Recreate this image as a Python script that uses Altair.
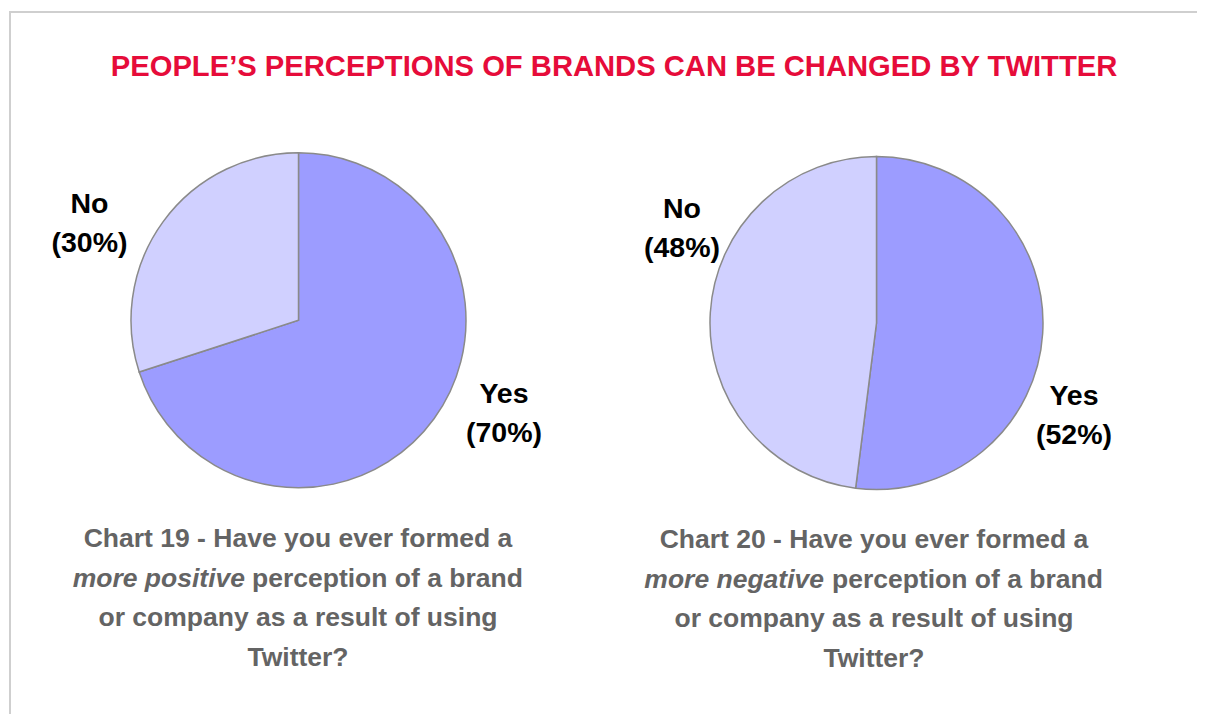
import altair as alt
import pandas as pd

# ---- data ----
categories = ["Yes", "No"]
chart19_values = [70, 30]
chart20_values = [52, 48]

title_text = "PEOPLE\u2019S PERCEPTIONS OF BRANDS CAN BE CHANGED BY TWITTER"

caption19_lines = ["Chart 19 - Have you ever formed a", None,
                   "or company as a result of using", "Twitter?"]
caption19_italic = "more positive"
caption19_rest = "perception of a brand"

caption20_lines = ["Chart 20 - Have you ever formed a", None,
                   "or company as a result of using", "Twitter?"]
caption20_italic = "more negative"
caption20_rest = "perception of a brand"

# ---- styling ----
FONT = "Liberation Sans"
YES_C = "#9C9CFF"
NO_C = "#D0D0FF"
TITLE_C = "#E60C3A"
CAP_C = "#646464"
W, H = 1189, 706


def pie_df(values):
    return pd.DataFrame({
        "category": categories,
        "value": values,
        "ord": list(range(len(categories))),
        "label": [f"{c}\n({v}%)" for c, v in zip(categories, values)],
    })


df19 = pie_df(chart19_values)
df20 = pie_df(chart20_values)

color = alt.Color("category:N",
                  scale=alt.Scale(domain=categories, range=[YES_C, NO_C]),
                  legend=None)


def pie(df, cx, cy, r):
    return alt.Chart(df).mark_arc(outerRadius=r, stroke="#8a8a8a",
                                  strokeWidth=1.5).encode(
        theta=alt.Theta("value:Q", stack=True),
        color=color,
        order=alt.Order("ord:Q"),
        x=alt.value(cx),
        y=alt.value(cy),
    )


def label(df, cat, x, y):
    return alt.Chart(df).transform_filter(
        alt.datum.category == cat
    ).mark_text(font=FONT, fontSize=28.5, fontWeight="bold", color="black",
                align="center", baseline="alphabetic", lineBreak="\n",
                lineHeight=39).encode(
        text="label:N", x=alt.value(x), y=alt.value(y))


def text(t, x, y, size, color_, align="center", style="normal"):
    return alt.Chart(alt.Data(values=[{"t": t}])).mark_text(
        font=FONT, fontSize=size, fontWeight="bold", fontStyle=style,
        color=color_, align=align, baseline="alphabetic").encode(
        text="t:N", x=alt.value(x), y=alt.value(y))


def caption(lines, italic, rest, cx, y0, split_end, rest_start):
    lh = 39.7
    layers = []
    for i, ln in enumerate(lines):
        if ln is not None:
            layers.append(text(ln, cx, y0 + i * lh, 26.5, CAP_C))
    layers.append(text(italic, split_end, y0 + lh, 26.5, CAP_C,
                       align="right", style="italic"))
    layers.append(text(rest, rest_start, y0 + lh, 26.5, CAP_C, align="left"))
    return layers


one = alt.Data(values=[{"a": 1}])
top_rule = alt.Chart(one).mark_rule(color="#cfcfcf", strokeWidth=2).encode(
    x=alt.value(0), x2=alt.value(W), y=alt.value(4))
left_rule = alt.Chart(one).mark_rule(color="#cfcfcf", strokeWidth=2).encode(
    x=alt.value(1), y=alt.value(4), y2=alt.value(H))

layers = [top_rule, left_rule,
          text(title_text, 605, 68, 29.2, TITLE_C),
          pie(df19, 289.5, 312.3, 167.5),
          pie(df20, 867.5, 315, 166.5),
          label(df19, "No", 80.5, 205),
          label(df19, "Yes", 495, 395),
          label(df20, "No", 673, 210),
          label(df20, "Yes", 1065, 397)]
layers += caption(caption19_lines, caption19_italic, caption19_rest,
                  289, 539, 236, 243)
layers += caption(caption20_lines, caption20_italic, caption20_rest,
                  865, 540, 815, 823)

chart = alt.layer(*layers).resolve_scale(theta="independent").properties(
    width=W, height=H,
    autosize=alt.AutoSizeParams(type="fit", contains="padding"),
    padding=0,
    background="white",
).configure_view(stroke=None)

chart.save("out.html", embed_options={"renderer": "svg", "actions": False})
